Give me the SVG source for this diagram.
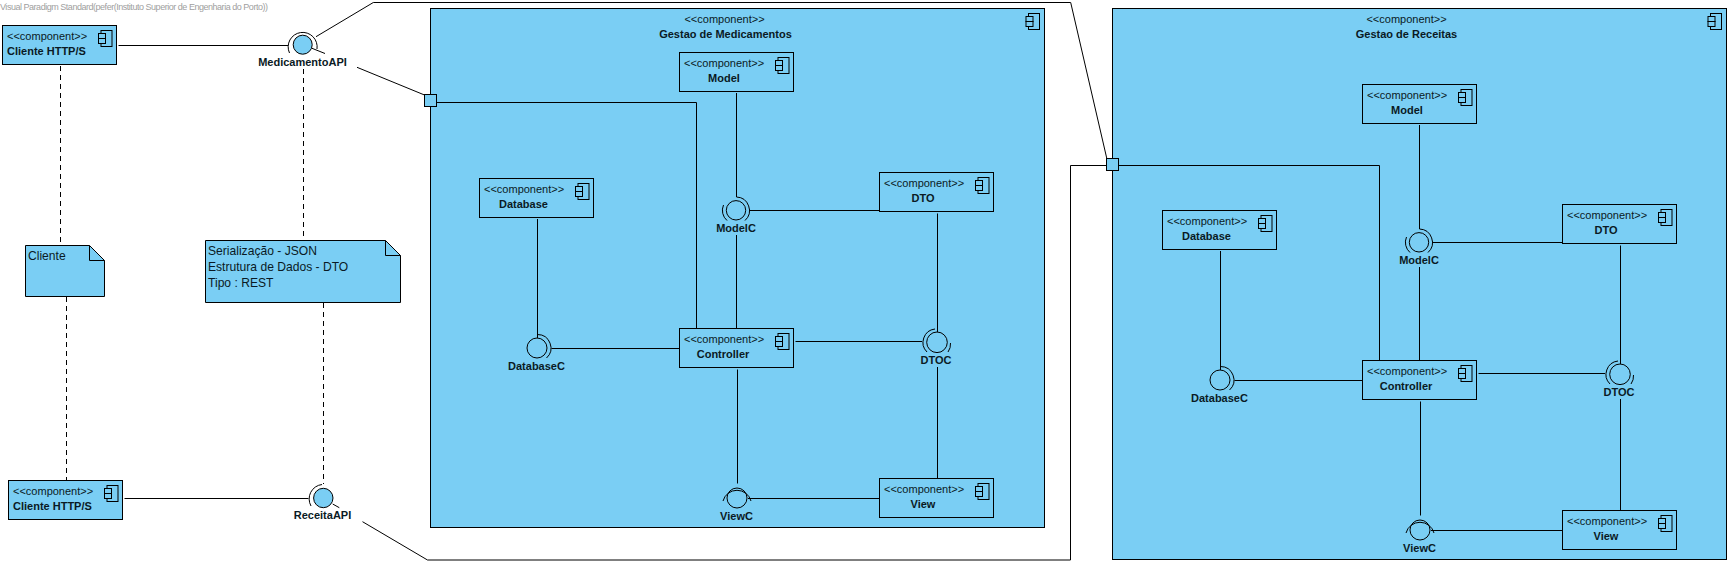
<svg xmlns="http://www.w3.org/2000/svg" width="1731" height="564" viewBox="0 0 1731 564">
<style>
text{font-family:"Liberation Sans",Arial,sans-serif;font-size:11px;fill:#0a1a24}
.n{font-weight:bold;text-anchor:middle}
.l{font-weight:bold}
.c{text-anchor:middle}
.t{font-size:12.1px}
.w{font-size:9px;fill:#a0a0a0}
.b{fill:#7acef4;stroke:#000;stroke-width:1}
.s{fill:none;stroke:#000;stroke-width:1}
.d{fill:none;stroke:#000;stroke-width:1;stroke-dasharray:5 4}
</style>
<defs>
<g id="ci">
<rect class="b" x="2.5" y="0" width="11" height="16"/>
<rect class="b" x="0" y="3" width="7" height="5"/>
<rect class="b" x="0" y="8" width="7" height="5"/>
</g>
</defs>
<rect width="1731" height="564" fill="#fff"/>
<text class="w" x="0" y="10" textLength="268">Visual Paradigm Standard(pefer(Instituto Superior de Engenharia do Porto))</text>

<g id="gestao-medicamentos">
<rect class="b" x="430.5" y="8.5" width="614" height="519"/>
<use href="#ci" x="1026" y="13.5"/>
<text class="c" x="724.5" y="23">&lt;&lt;component&gt;&gt;</text>
<text class="n" x="725.5" y="38">Gestao de Medicamentos</text>
</g>
<g id="gestao-receitas">
<rect class="b" x="1112.5" y="8.5" width="614" height="551"/>
<use href="#ci" x="1708" y="13.5"/>
<text class="c" x="1406.5" y="23">&lt;&lt;component&gt;&gt;</text>
<text class="n" x="1406.5" y="38">Gestao de Receitas</text>
</g>

<g id="connectors">
<path class="s" d="M118.5 45.5H288"/>
<path class="s" d="M316 36.7L373.3 2.5H1070.7L1106.7 158"/>
<path class="s" d="M312 48.3L325 53.5"/>
<path class="s" d="M357 67.3L424.5 95"/>
<path class="s" d="M124.5 498.5H308.5"/>
<path class="s" d="M332.7 504L339.3 507.7"/>
<path class="s" d="M362.5 521.7L427.5 560H1070.5V165.5H1106.5"/>
<path class="d" d="M60.5 66V245"/>
<path class="d" d="M66.5 297V480"/>
<path class="d" d="M303.5 69V240"/>
<path class="d" d="M323.5 303V484"/>

<path class="s" d="M436.5 102.5H696.5V328.5"/>
<path class="s" d="M736.5 93V197"/>
<path class="s" d="M736.5 235V328.5"/>
<path class="s" d="M750 210.5H879.5"/>
<path class="s" d="M537.5 219V338"/>
<path class="s" d="M551.5 348.5H679.5"/>
<path class="s" d="M737.5 369.5V483.5"/>
<path class="s" d="M748 498.5H879.5"/>
<path class="s" d="M795.5 341.5H922"/>
<path class="s" d="M937.5 213.5V332"/>
<path class="s" d="M937.5 367V478.5"/>

<path class="s" d="M1118.5 165.5H1379.5V360.5"/>
<path class="s" d="M1419.5 125V229"/>
<path class="s" d="M1419.5 267V360.5"/>
<path class="s" d="M1433 242.5H1562.5"/>
<path class="s" d="M1220.5 251V370"/>
<path class="s" d="M1234.5 380.5H1362.5"/>
<path class="s" d="M1420.5 401.5V515.5"/>
<path class="s" d="M1431 530.5H1562.5"/>
<path class="s" d="M1478.5 373.5H1605"/>
<path class="s" d="M1620.5 245.5V364"/>
<path class="s" d="M1620.5 399V510.5"/>
</g>

<g id="cliente-top">
<rect class="b" x="2.5" y="25.5" width="114" height="39"/>
<use href="#ci" x="98.5" y="30.5"/>
<text x="7" y="40">&lt;&lt;component&gt;&gt;</text>
<text class="l" x="7" y="55">Cliente HTTP/S</text>
</g>
<g id="cliente-bottom">
<rect class="b" x="8.5" y="480.5" width="114" height="39"/>
<use href="#ci" x="104.5" y="485.5"/>
<text x="13" y="495">&lt;&lt;component&gt;&gt;</text>
<text class="l" x="13" y="510">Cliente HTTP/S</text>
</g>

<g id="note-cliente">
<path class="b" d="M25.5 245.5H89.5L104.5 260.5V296.5H25.5Z"/>
<path class="s" d="M89.5 245.5V260.5H104.5"/>
<text class="t" x="28" y="260">Cliente</text>
</g>
<g id="note-rest">
<path class="b" d="M205.5 240.5H385.5L400.5 255.5V302.5H205.5Z"/>
<path class="s" d="M385.5 240.5V255.5H400.5"/>
<text class="t" x="208" y="255">Serialização - JSON</text>
<text class="t" x="208" y="271">Estrutura de Dados - DTO</text>
<text class="t" x="208" y="287">Tipo : REST</text>
</g>

<g id="medicamento-api">
<circle class="b" cx="302.7" cy="44.7" r="9.5"/>
<path class="s" d="M289.5 53A14.5 14.5 0 1 1 317 49"/>
<text class="n" x="302.5" y="66">MedicamentoAPI</text>
</g>
<g id="receita-api">
<circle class="b" cx="323.3" cy="498" r="9.7"/>
<path class="s" d="M311 506A14.5 14.5 0 0 1 322 484.5"/>
<text class="n" x="322.5" y="519">ReceitaAPI</text>
</g>
<g id="port-med"><rect class="b" x="424.5" y="94.5" width="12" height="12"/></g>
<g id="port-rec"><rect class="b" x="1106.5" y="158.5" width="12" height="12"/></g>

<g id="med-model">
<rect class="b" x="679.5" y="52.5" width="114" height="39"/>
<use href="#ci" x="775.5" y="57.5"/>
<text x="684" y="67">&lt;&lt;component&gt;&gt;</text>
<text class="n" x="724" y="82">Model</text>
</g>
<g id="med-database">
<rect class="b" x="479.5" y="178.5" width="114" height="39"/>
<use href="#ci" x="575.5" y="183.5"/>
<text x="484" y="193">&lt;&lt;component&gt;&gt;</text>
<text class="n" x="523.5" y="208">Database</text>
</g>
<g id="med-dto">
<rect class="b" x="879.5" y="172.5" width="114" height="39"/>
<use href="#ci" x="975.5" y="177.5"/>
<text x="884" y="187">&lt;&lt;component&gt;&gt;</text>
<text class="n" x="923" y="202">DTO</text>
</g>
<g id="med-controller">
<rect class="b" x="679.5" y="328.5" width="114" height="39"/>
<use href="#ci" x="775.5" y="333.5"/>
<text x="684" y="343">&lt;&lt;component&gt;&gt;</text>
<text class="n" x="723" y="358">Controller</text>
</g>
<g id="med-view">
<rect class="b" x="879.5" y="478.5" width="114" height="39"/>
<use href="#ci" x="975.5" y="483.5"/>
<text x="884" y="493">&lt;&lt;component&gt;&gt;</text>
<text class="n" x="923" y="508">View</text>
</g>
<g id="med-modelc">
<circle class="s" cx="736" cy="210.3" r="9.7"/>
<path class="s" d="M736.5 197A13.5 13.5 0 0 1 745 220.5M727 220.5A13.5 13.5 0 0 1 723.5 205"/>
<text class="n" x="736" y="232">ModelC</text>
</g>
<g id="med-databasec">
<circle class="s" cx="537" cy="348" r="10"/>
<path class="s" d="M537.5 334.5A13.5 13.5 0 0 1 546.5 358"/>
<text class="n" x="536.5" y="370">DatabaseC</text>
</g>
<g id="med-viewc">
<circle class="s" cx="737" cy="498" r="10"/>
<path class="s" d="M723 501A14.5 14.5 0 0 1 751 501"/>
<text class="n" x="736.5" y="520">ViewC</text>
</g>
<g id="med-dtoc">
<circle class="s" cx="937" cy="342.3" r="10.3"/>
<path class="s" d="M927 352A13.5 13.5 0 0 1 935 329M950.5 343A13.5 13.5 0 0 1 948 352"/>
<text class="n" x="936" y="363.5">DTOC</text>
</g>

<g id="rec-model">
<rect class="b" x="1362.5" y="84.5" width="114" height="39"/>
<use href="#ci" x="1458.5" y="89.5"/>
<text x="1367" y="99">&lt;&lt;component&gt;&gt;</text>
<text class="n" x="1407" y="114">Model</text>
</g>
<g id="rec-database">
<rect class="b" x="1162.5" y="210.5" width="114" height="39"/>
<use href="#ci" x="1258.5" y="215.5"/>
<text x="1167" y="225">&lt;&lt;component&gt;&gt;</text>
<text class="n" x="1206.5" y="240">Database</text>
</g>
<g id="rec-dto">
<rect class="b" x="1562.5" y="204.5" width="114" height="39"/>
<use href="#ci" x="1658.5" y="209.5"/>
<text x="1567" y="219">&lt;&lt;component&gt;&gt;</text>
<text class="n" x="1606" y="234">DTO</text>
</g>
<g id="rec-controller">
<rect class="b" x="1362.5" y="360.5" width="114" height="39"/>
<use href="#ci" x="1458.5" y="365.5"/>
<text x="1367" y="375">&lt;&lt;component&gt;&gt;</text>
<text class="n" x="1406" y="390">Controller</text>
</g>
<g id="rec-view">
<rect class="b" x="1562.5" y="510.5" width="114" height="39"/>
<use href="#ci" x="1658.5" y="515.5"/>
<text x="1567" y="525">&lt;&lt;component&gt;&gt;</text>
<text class="n" x="1606" y="540">View</text>
</g>
<g id="rec-modelc">
<circle class="s" cx="1419" cy="242.3" r="9.7"/>
<path class="s" d="M1419.5 229A13.5 13.5 0 0 1 1428 252.5M1410 252.5A13.5 13.5 0 0 1 1406.5 237"/>
<text class="n" x="1419" y="264">ModelC</text>
</g>
<g id="rec-databasec">
<circle class="s" cx="1220" cy="380" r="10"/>
<path class="s" d="M1220.5 366.5A13.5 13.5 0 0 1 1229.5 390"/>
<text class="n" x="1219.5" y="402">DatabaseC</text>
</g>
<g id="rec-viewc">
<circle class="s" cx="1420" cy="530" r="10"/>
<path class="s" d="M1406 533A14.5 14.5 0 0 1 1434 533"/>
<text class="n" x="1419.5" y="552">ViewC</text>
</g>
<g id="rec-dtoc">
<circle class="s" cx="1620" cy="374.3" r="10.3"/>
<path class="s" d="M1610 384A13.5 13.5 0 0 1 1618 361M1633.5 375A13.5 13.5 0 0 1 1631 384"/>
<text class="n" x="1619" y="395.5">DTOC</text>
</g>
</svg>
